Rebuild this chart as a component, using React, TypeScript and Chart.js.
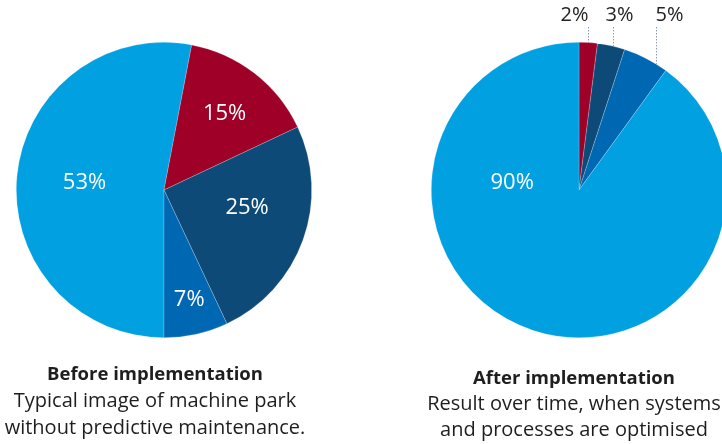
import { useEffect, useRef } from "react";
import { Chart, registerables } from "chart.js";

Chart.register(...registerables);

// ---- data ----
const beforeCategories = ["Share A", "Share B", "Share C", "Share D"];
const beforeValues = [53, 15, 25, 7];
const afterCategories = ["Share B", "Share C", "Share D", "Share A"];
const afterValues = [2, 3, 5, 90];

const beforeTitle = "Before implementation";
const beforeText = ["Typical image of machine park", "without predictive maintenance."];
const afterTitle = "After implementation";
const afterText = ["Result over time, when systems", "and processes are optimised"];

// ---- styles ----
const LIGHT = "#00a0e1";
const RED = "#9e0028";
const DARK = "#0e4a78";
const MEDIUM = "#0068b2";
const FONT = "'Open Sans', 'Noto Sans', sans-serif";

const beforeColors = [LIGHT, RED, DARK, MEDIUM];
const afterColors = [RED, DARK, MEDIUM, LIGHT];

// label placement: angle (deg, clockwise from top), radius fraction
const beforePlace = [
  { inside: true, angle: 275, r: 0.54 },
  { inside: true, angle: 38.4, r: 0.66 },
  { inside: true, angle: 102, r: 0.575 },
  { inside: true, angle: 167, r: 0.76 },
];
const afterPlace = [
  { inside: false, angle: 3.6, dx: -14 },
  { inside: false, angle: 13.2, dx: 6 },
  { inside: false, angle: 31.3, dx: 13 },
  { inside: true, angle: 276, r: 0.455 },
];

const sliceLabels = {
  id: "sliceLabels",
  afterDatasetsDraw(chart: any, _args: any, opts: any) {
    const ctx = chart.ctx;
    const meta = chart.getDatasetMeta(0);
    const data = chart.data.datasets[0].data;
    const place = opts.place || [];
    ctx.save();
    meta.data.forEach((arc: any, i: number) => {
      const p = place[i];
      if (!p) return;
      const { x, y, outerRadius } = arc.getProps(["x", "y", "outerRadius"], true);
      const text = data[i] + "%";
      const a = (p.angle * Math.PI) / 180;
      ctx.textAlign = "center";
      ctx.textBaseline = "middle";
      if (p.inside) {
        const tx = x + p.r * outerRadius * Math.sin(a);
        const ty = y - p.r * outerRadius * Math.cos(a);
        ctx.fillStyle = "#ffffff";
        ctx.font = `22px ${FONT}`;
        ctx.fillText(text, tx, ty);
      } else {
        const lx = Math.round(x + outerRadius * Math.sin(a)) + 0.5;
        const ly = y - outerRadius * Math.cos(a);
        const top = y - outerRadius;
        ctx.beginPath();
        ctx.setLineDash([1, 2]);
        ctx.strokeStyle = "#4f6d92";
        ctx.lineWidth = 1;
        ctx.moveTo(lx, top - 15);
        ctx.lineTo(lx, ly);
        ctx.stroke();
        ctx.setLineDash([]);
        ctx.fillStyle = "#222222";
        ctx.font = `20px ${FONT}`;
        ctx.fillText(text, lx + p.dx, top - 27);
      }
    });
    ctx.restore();
  },
};

function PieCanvas(props: {
  labels: string[];
  values: number[];
  colors: string[];
  place: any[];
  rotation: number;
  padding: any;
  width: number;
  height: number;
  style: any;
}) {
  const ref = useRef<HTMLCanvasElement | null>(null);
  useEffect(() => {
    if (!ref.current) return;
    const chart = new Chart(ref.current, {
      type: "pie",
      data: {
        labels: props.labels,
        datasets: [
          {
            data: props.values,
            backgroundColor: props.colors,
            borderColor: "rgba(255,255,255,0.35)",
            borderWidth: 0.6,
          },
        ],
      },
      options: {
        responsive: false,
        animation: false,
        devicePixelRatio: 1,
        rotation: props.rotation,
        layout: { padding: props.padding },
        plugins: {
          legend: { display: false },
          tooltip: { enabled: false },
          sliceLabels: { place: props.place },
        } as any,
      },
      plugins: [sliceLabels as any],
    });
    return () => chart.destroy();
  }, []);
  return <canvas ref={ref} width={props.width} height={props.height} style={props.style} />;
}

function Caption(props: { title: string; lines: string[]; style: any }) {
  return (
    <div
      style={{
        position: "absolute",
        textAlign: "center",
        whiteSpace: "nowrap",
        fontFamily: FONT,
        color: "#1e1e1e",
        fontSize: 20,
        ...props.style,
      }}
    >
      <div style={{ fontWeight: 700, fontSize: 18.5 }}>{props.title}</div>
      {props.lines.map((l, i) => (
        <div key={i}>{l}</div>
      ))}
    </div>
  );
}

export default function App() {
  return (
    <div
      style={{
        position: "fixed",
        left: 0,
        top: 0,
        width: 722,
        height: 444,
        overflow: "hidden",
        background: "#ffffff",
      }}
    >
      <PieCanvas
        labels={beforeCategories}
        values={beforeValues}
        colors={beforeColors}
        place={beforePlace}
        rotation={180}
        padding={{ left: 16, right: 49, top: 42, bottom: 106 }}
        width={361}
        height={444}
        style={{ position: "absolute", left: 0, top: 0 }}
      />
      <PieCanvas
        labels={afterCategories}
        values={afterValues}
        colors={afterColors}
        place={afterPlace}
        rotation={0}
        padding={{ left: 70, right: 14, top: 42, bottom: 106 }}
        width={380}
        height={444}
        style={{ position: "absolute", left: 361, top: 0 }}
      />
      <Caption
        title={beforeTitle}
        lines={beforeText}
        style={{ left: 0, width: 310, top: 359, lineHeight: "27px" }}
      />
      <Caption
        title={afterTitle}
        lines={afterText}
        style={{ left: 404, width: 340, top: 364, lineHeight: "26px" }}
      />
    </div>
  );
}
